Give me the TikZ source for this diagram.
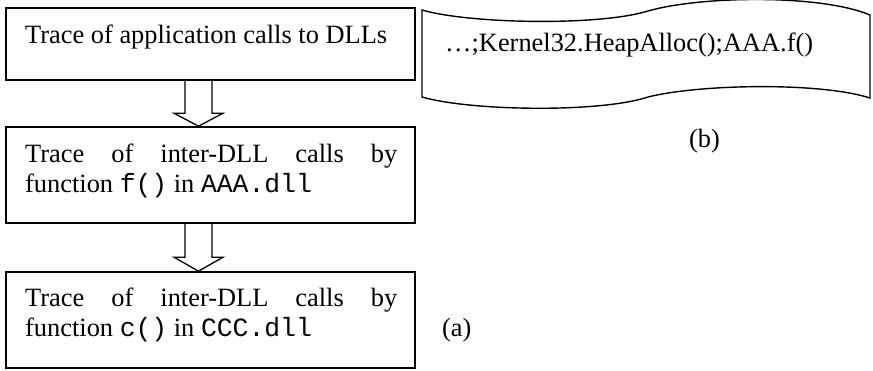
\documentclass[tikz,border=0pt]{standalone}
\usepackage{fontspec}
\setmainfont{Liberation Serif}
\setmonofont{Liberation Mono}
\usetikzlibrary{calc}

\tikzset{
  box/.style={draw, line width=1.6pt, rectangle, minimum width=409pt, inner sep=0pt},
  txt/.style={inner sep=0pt, font=\fontsize{26.4}{30.5}\selectfont},
  hollow/.style={draw, line width=1.3pt, line join=miter},
  wave/.style={draw, line width=1.4pt, line join=miter},
}

\begin{document}
\begin{tikzpicture}[x=1pt, y=-1pt]
  \useasboundingbox (0,0) rectangle (873,370);

  % three trace boxes of the flow (a)
  \node[box, minimum height=72pt] (b1) at (210.5,44) {};
  \node[box, minimum height=96pt] (b2) at (210.5,175) {};
  \node[box, minimum height=96pt] (b3) at (210.5,320) {};

  % multi-line nodes: the base anchor sits on the last line
  \node[txt, anchor=base west] (t1) at (25,43) {Trace of application calls to DLLs};
  \node[txt, anchor=base west, align=left] (t2) at (25,192.5)
    {\makebox[372pt][s]{Trace of inter-DLL calls by}\\function \texttt{f()} in \texttt{AAA.dll}};
  \node[txt, anchor=base west, align=left] (t3) at (25,336.5)
    {\makebox[372pt][s]{Trace of inter-DLL calls by}\\function \texttt{c()} in \texttt{CCC.dll}};

  % hollow block arrows between the boxes
  \coordinate (ax) at (198.5,0);
  \draw[hollow] ($(ax |- b1.south)+(-13.5,0)$) |- ($(ax |- b2.north)+(-24.5,-13)$)
    -- (ax |- b2.north) -- ($(ax |- b2.north)+(24.5,-13)$) -| ($(ax |- b1.south)+(13.5,0)$);
  \draw[hollow] ($(ax |- b2.south)+(-13.5,0)$) |- ($(ax |- b3.north)+(-24.5,-14)$)
    -- (ax |- b3.north) -- ($(ax |- b3.north)+(24.5,-14)$) -| ($(ax |- b2.south)+(13.5,0)$);

  \node[txt, anchor=base west] (la) at (442,336) {(a)};

  % wave-shaped banner holding the call sequence (b)
  \draw[wave] (422,10) .. controls (470,24) and (600,26) .. (648,11)
    .. controls (700,-4) and (820,-6) .. (870,15)
    -- (870,98) .. controls (820,82) and (700,84) .. (648,97)
    .. controls (600,113) and (470,111) .. (422,97) -- cycle;
  \node[txt, anchor=base west] (seq) at (445,51.5) {…;Kernel32.HeapAlloc();AAA.f()};

  \node[txt, anchor=base west] (lb) at (689,147) {(b)};
\end{tikzpicture}
\end{document}
